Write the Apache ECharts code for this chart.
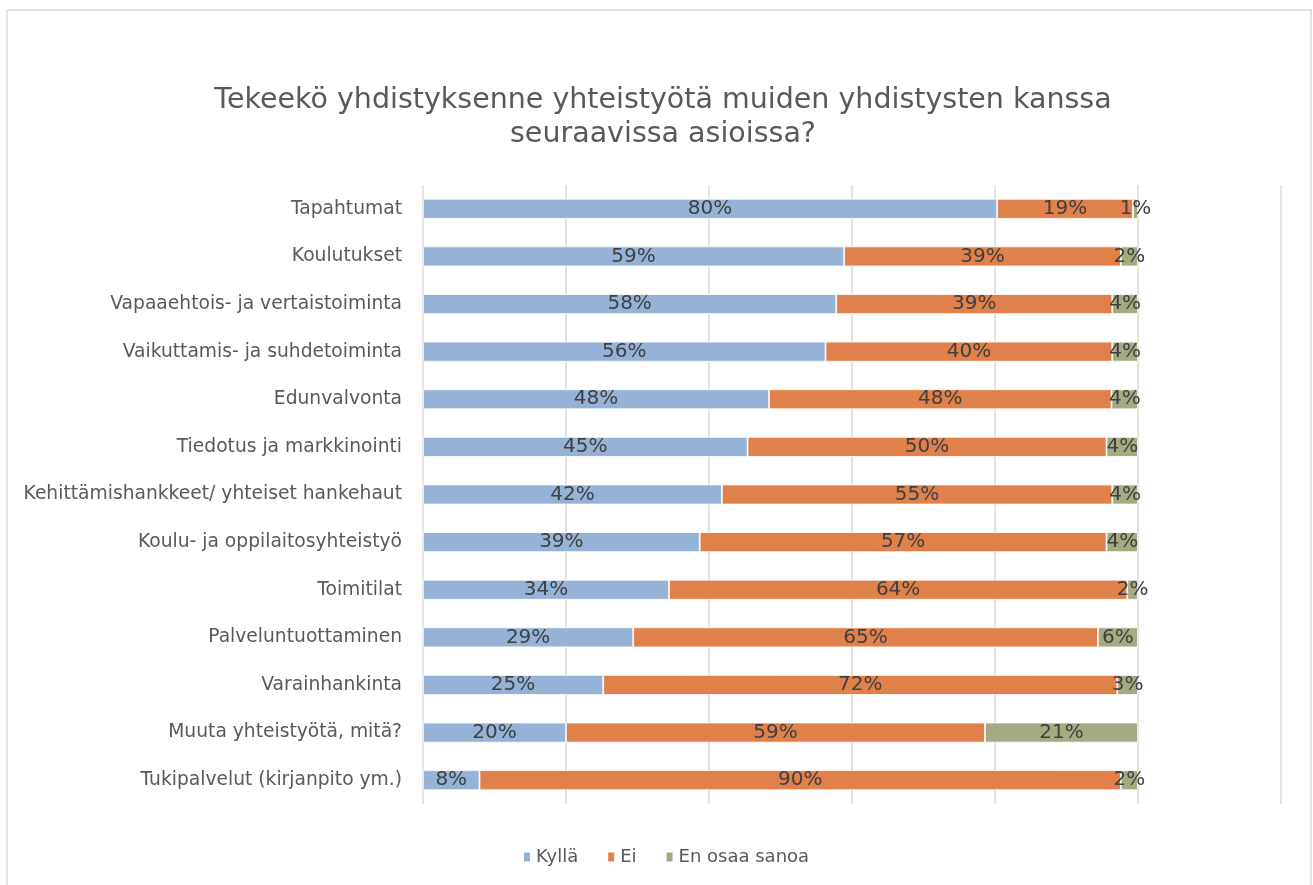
<!DOCTYPE html>
<html lang="fi" style="width: 100%; height: 100%">
<head>
  <meta charset="utf-8">
</head>
<body style="margin: 0; width: 1313px; height: 885px; background: #fff">
  <div id="container" style="width: 1313px; height: 885px"></div>

  <script type="text/javascript" src="https://cdn.jsdelivr.net/npm/echarts@6/dist/echarts.min.js"></script>

  <script type="text/javascript">

var categories = [
  'Tapahtumat',
  'Koulutukset',
  'Vapaaehtois- ja vertaistoiminta',
  'Vaikuttamis- ja suhdetoiminta',
  'Edunvalvonta',
  'Tiedotus ja markkinointi',
  'Kehittämishankkeet/ yhteiset hankehaut',
  'Koulu- ja oppilaitosyhteistyö',
  'Toimitilat',
  'Palveluntuottaminen',
  'Varainhankinta',
  'Muuta yhteistyötä, mitä?',
  'Tukipalvelut (kirjanpito ym.)'
];

// percent of answers
var kylla = [80.3, 58.9, 57.8, 56.3, 48.4, 45.4, 41.8, 38.7, 34.4, 29.4, 25.2, 20.0, 7.9];
var ei    = [19.0, 38.7, 38.6, 40.1, 47.9, 50.2, 54.6, 56.9, 64.1, 65.0, 71.9, 58.6, 89.7];
var eos   = [0.7, 2.4, 3.6, 3.6, 3.7, 4.4, 3.6, 4.4, 1.5, 5.6, 2.9, 21.4, 2.4];

var seriesNames = ['Kyllä', 'Ei', 'En osaa sanoa'];
var colors = ['#95b3d7', '#e0804a', '#a5ab81'];

var font = '"DejaVu Sans"';

var dom = document.getElementById('container');
var myChart = echarts.init(dom, null, { renderer: 'canvas' });

function barSeries(name, data, color) {
  return {
    name: name,
    type: 'bar',
    stack: 'total',
    data: data,
    barWidth: 20,
    itemStyle: {
      color: color,
      borderColor: '#ffffff',
      borderWidth: 0.8
    },
    label: {
      show: true,
      position: 'inside',
      color: '#404040',
      fontFamily: font,
      fontSize: 20,
      formatter: function (p) {
        return Math.round(p.value) + '%';
      }
    },
    labelLayout: { hideOverlap: false }
  };
}

var option = {
  animation: false,
  backgroundColor: '#ffffff',
  color: colors,
  title: {
    text: 'Tekeekö yhdistyksenne yhteistyötä muiden yhdistysten kanssa\nseuraavissa asioissa?',
    left: 658,
    textAlign: 'center',
    top: 79,
    textStyle: {
      color: '#595959',
      fontFamily: font,
      fontWeight: 'normal',
      fontSize: 28.5,
      lineHeight: 34
    }
  },
  graphic: [{
    type: 'rect',
    shape: { x: 7, y: 10, width: 1304, height: 890 },
    style: { fill: 'none', stroke: '#d9d9d9', lineWidth: 1.5 },
    silent: true
  }],
  legend: {
    top: 843,
    left: 517,
    itemWidth: 8,
    itemHeight: 11,
    itemGap: 28,
    icon: 'rect',
    textStyle: {
      color: '#595959',
      fontFamily: font,
      fontSize: 18
    },
    data: seriesNames
  },
  grid: {
    left: 423,
    right: 32,
    top: 185,
    height: 619,
    containLabel: false
  },
  xAxis: {
    type: 'value',
    min: 0,
    max: 120,
    interval: 20,
    axisLabel: { show: false },
    axisLine: { show: false },
    axisTick: { show: false },
    splitLine: { show: true, lineStyle: { color: '#d9d9d9', width: 1.5 } }
  },
  yAxis: {
    type: 'category',
    inverse: true,
    data: categories,
    axisLine: { show: false },
    axisTick: { show: false },
    axisLabel: {
      color: '#595959',
      fontFamily: font,
      fontSize: 18.7,
      margin: 21
    }
  },
  series: [
    barSeries(seriesNames[0], kylla, colors[0]),
    barSeries(seriesNames[1], ei, colors[1]),
    barSeries(seriesNames[2], eos, colors[2])
  ]
};

myChart.setOption(option);

  </script>
</body>
</html>
